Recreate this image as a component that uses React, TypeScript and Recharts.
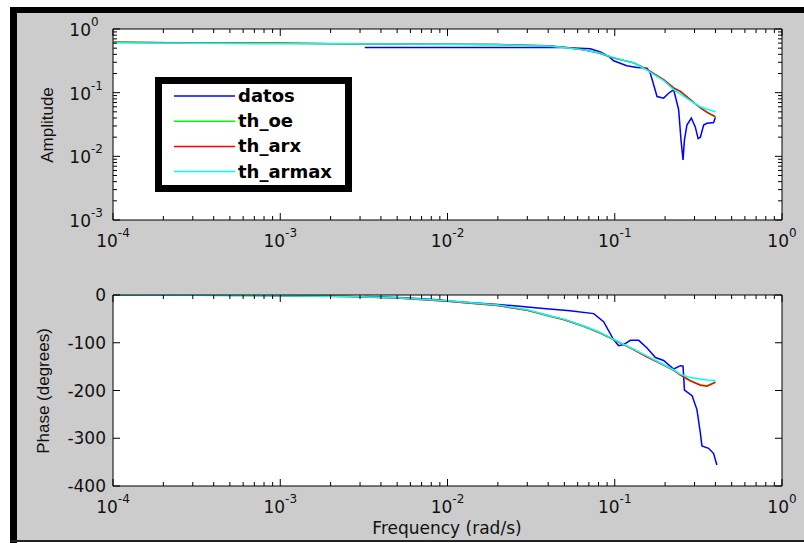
import React from 'react';
import { LineChart, Line, XAxis, YAxis, Legend } from 'recharts';

// tick labels
const xMajorTicks = [1e-4, 1e-3, 1e-2, 1e-1, 1];
const xTickExponents = ['-4', '-3', '-2', '-1', '0'];
const ampMajorTicks = [1e-3, 1e-2, 1e-1, 1];
const ampTickExponents = ['-3', '-2', '-1', '0'];
const phaseTicks = [0, -100, -200, -300, -400];
const minorSteps = [2, 3, 4, 5, 6, 7, 8, 9];

const seriesNames = ['datos', 'th_oe', 'th_arx', 'th_armax'];
const seriesColors = ['#0000ff', '#00ff00', '#ff0000', '#00ffff'];

// measured response (datos)
const datosAmpFreq = [0.0032, 0.02, 0.05, 0.057, 0.0715, 0.082, 0.092, 0.0985, 0.118, 0.136, 0.156, 0.163, 0.179, 0.196, 0.21, 0.225, 0.241, 0.249, 0.256, 0.261, 0.27, 0.287, 0.303, 0.315, 0.325, 0.34, 0.356, 0.39, 0.4];
const datosAmp = [0.514, 0.514, 0.514, 0.505, 0.49, 0.435, 0.371, 0.317, 0.265, 0.249, 0.243, 0.203, 0.087, 0.082, 0.098, 0.111, 0.054, 0.018, 0.0088, 0.018, 0.031, 0.04, 0.029, 0.019, 0.02, 0.031, 0.033, 0.034, 0.041];
const datosPhaseFreq = [0.0032, 0.0055, 0.0087, 0.0116, 0.02, 0.026, 0.036, 0.054, 0.0748, 0.0858, 0.0985, 0.1055, 0.113, 0.124, 0.139, 0.156, 0.175, 0.196, 0.225, 0.247, 0.256, 0.261, 0.29, 0.31, 0.325, 0.332, 0.364, 0.39, 0.408];
const datosPhase = [-3, -6, -10, -14, -20, -23, -28, -33, -39, -56, -94, -106, -104, -95, -95, -111, -131, -137, -155, -148, -149, -199, -211, -240, -289, -316, -321, -332, -356];

// identified models
const modelFreq = [1e-4, 3.2e-4, 1e-3, 2.5e-3, 0.005, 0.01, 0.02, 0.03, 0.04, 0.05, 0.065, 0.08, 0.0985, 0.13, 0.156, 0.196, 0.225, 0.247, 0.283, 0.325, 0.356, 0.4];
const oeAmp = [0.624, 0.6, 0.6, 0.58, 0.578, 0.577, 0.57, 0.552, 0.545, 0.514, 0.47, 0.42, 0.35, 0.292, 0.229, 0.159, 0.118, 0.104, 0.077, 0.057, 0.05, 0.041];
const arxAmp = [0.62, 0.6, 0.595, 0.585, 0.58, 0.578, 0.572, 0.555, 0.546, 0.516, 0.47, 0.422, 0.352, 0.294, 0.231, 0.16, 0.119, 0.105, 0.078, 0.058, 0.049, 0.042];
const armaxAmp = [0.61, 0.598, 0.585, 0.585, 0.58, 0.575, 0.566, 0.55, 0.54, 0.51, 0.47, 0.425, 0.355, 0.292, 0.226, 0.155, 0.112, 0.095, 0.075, 0.06, 0.055, 0.05];
const oePhase = [0, -0.5, -1.5, -3, -6.5, -13, -22, -32, -44, -52, -66, -78, -94, -114, -129, -146, -157, -167, -179, -188, -190, -182];
const arxPhase = [0, -0.5, -1.5, -3, -6.5, -13, -22, -32, -43, -52, -65, -78, -93, -115, -130, -147, -158, -168, -180, -189, -191, -183];
const armaxPhase = [0, -0.5, -1.5, -3, -6, -12, -21, -31, -43, -51, -65, -77, -93, -114, -128, -146, -157, -166, -173, -176, -178, -179];

const TICK_FONT = '"DejaVu Sans", sans-serif';
const LABEL_FONT = '"Liberation Sans", Arial, sans-serif';
const INK = '#111';

const toPoints = (fs: number[], vs: number[]) => fs.map((f, i) => ({ f, v: vs[i] }));

const logTicks = (decades: number[]) => [
  ...decades,
  ...decades.slice(0, -1).flatMap((d) => minorSteps.map((m) => d * m)),
].sort((a, b) => a - b);

const xTicks = logTicks(xMajorTicks);
const ampTicks = logTicks(ampMajorTicks);

const decadeIndex = (list: number[], v: number) =>
  list.findIndex((t) => Math.abs(t - v) / t < 1e-6);

const makeXTick = (side: 'top' | 'bottom') => (props: any) => {
  const { x, y, payload } = props;
  const idx = decadeIndex(xMajorTicks, payload.value);
  const len = idx >= 0 ? 7 : 4;
  const d = side === 'bottom' ? -1 : 1;
  return (
    <g>
      <line x1={x} x2={x} y1={y} y2={y + d * len} stroke="#000" strokeWidth={1} />
      {side === 'bottom' && idx >= 0 && (
        <text x={x} y={y + 27} textAnchor="middle" fontFamily={TICK_FONT} fontSize={17} fill={INK}>
          10
          <tspan dy={-10} fontSize={12}>
            {xTickExponents[idx]}
          </tspan>
        </text>
      )}
    </g>
  );
};

const makeAmpTick = (side: 'left' | 'right') => (props: any) => {
  const { x, y, payload } = props;
  const idx = decadeIndex(ampMajorTicks, payload.value);
  const len = idx >= 0 ? 7 : 4;
  const d = side === 'left' ? 1 : -1;
  return (
    <g>
      <line x1={x} x2={x + d * len} y1={y} y2={y} stroke="#000" strokeWidth={1} />
      {side === 'left' && idx >= 0 && (
        <>
          <text x={x - 22} y={y + 7} textAnchor="end" fontFamily={TICK_FONT} fontSize={17} fill={INK}>
            10
          </text>
          <text x={x - 22} y={y - 3} fontFamily={TICK_FONT} fontSize={12} fill={INK}>
            {ampTickExponents[idx]}
          </text>
        </>
      )}
    </g>
  );
};

const makePhaseTick = (side: 'left' | 'right') => (props: any) => {
  const { x, y, payload } = props;
  const d = side === 'left' ? 1 : -1;
  return (
    <g>
      <line x1={x} x2={x + d * 7} y1={y} y2={y} stroke="#000" strokeWidth={1} />
      {side === 'left' && (
        <text x={x - 7} y={y + 6} textAnchor="end" fontFamily={TICK_FONT} fontSize={17} fill={INK}>
          {payload.value}
        </text>
      )}
    </g>
  );
};

const LegendBox = () => (
  <div
    style={{
      width: 197,
      height: 115,
      boxSizing: 'border-box',
      border: '7px solid #000',
      background: '#fff',
    }}
  >
    <svg width={183} height={101} style={{ display: 'block' }}>
      {seriesNames.map((name, i) => {
        const cy = 12 + i * 25.2;
        return (
          <g key={name}>
            <line x1={12} x2={73} y1={cy} y2={cy} stroke={seriesColors[i]} strokeWidth={1.5} />
            <text x={76} y={cy + 6} fontFamily={TICK_FONT} fontWeight="bold" fontSize={18} fill="#000">
              {name}
            </text>
          </g>
        );
      })}
    </svg>
  </div>
);

const ampSeries = [
  toPoints(datosAmpFreq, datosAmp),
  toPoints(modelFreq, oeAmp),
  toPoints(modelFreq, arxAmp),
  toPoints(modelFreq, armaxAmp),
];
const phaseSeries = [
  toPoints(datosPhaseFreq, datosPhase),
  toPoints(modelFreq, oePhase),
  toPoints(modelFreq, arxPhase),
  toPoints(modelFreq, armaxPhase),
];

const frame = { stroke: '#000', strokeWidth: 1 };

// shared frame axes: width/height 1 so recharts still draws them
const axisCommon = {
  tickSize: 0,
  tickMargin: 0,
  axisLine: frame,
  tickLine: false,
  interval: 0 as const,
  allowDataOverflow: true,
};

export default function App() {
  return (
    <div style={{ position: 'absolute', left: 0, top: 0, width: 804, height: 543, background: '#fff', overflow: 'hidden' }}>
      {/* figure window */}
      <div style={{ position: 'absolute', left: 17, top: 13, width: 787, height: 527, background: '#cccccc' }} />
      <div style={{ position: 'absolute', left: 10, top: 7, width: 794, height: 6, background: '#000' }} />
      <div style={{ position: 'absolute', left: 10, top: 7, width: 7, height: 536, background: '#000' }} />
      <div style={{ position: 'absolute', left: 10, top: 540, width: 794, height: 2, background: '#222' }} />
      <div style={{ position: 'absolute', left: 113, top: 29, width: 669, height: 191, background: '#fff' }} />
      <div style={{ position: 'absolute', left: 113, top: 295, width: 669, height: 191, background: '#fff' }} />

      {/* amplitude */}
      <div style={{ position: 'absolute', left: 0, top: 0 }}>
        <LineChart width={804} height={260} margin={{ top: 28, right: 21, bottom: 39, left: 112 }}>
          <XAxis xAxisId="b" dataKey="f" type="number" scale="log" domain={[1e-4, 1]} ticks={xTicks}
            height={1} tick={makeXTick('bottom')} {...axisCommon} />
          <XAxis xAxisId="t" orientation="top" dataKey="f" type="number" scale="log" domain={[1e-4, 1]} ticks={xTicks}
            height={1} tick={makeXTick('top')} {...axisCommon} />
          <YAxis yAxisId="l" type="number" scale="log" domain={[1e-3, 1]} ticks={ampTicks}
            width={1} tick={makeAmpTick('left')} {...axisCommon} />
          <YAxis yAxisId="r" orientation="right" type="number" scale="log" domain={[1e-3, 1]} ticks={ampTicks}
            width={1} tick={makeAmpTick('right')} {...axisCommon} />
          <Legend layout="vertical" align="center" verticalAlign="middle" content={LegendBox}
            wrapperStyle={{ left: 155, top: 77, width: 197, height: 115 }} />
          {ampSeries.map((data, i) => (
            <Line key={seriesNames[i]} xAxisId="b" yAxisId="l" data={data} dataKey="v" name={seriesNames[i]}
              type="linear" stroke={seriesColors[i]} strokeWidth={1.5} dot={false} activeDot={false} isAnimationActive={false} />
          ))}
        </LineChart>
      </div>

      {/* phase */}
      <div style={{ position: 'absolute', left: 0, top: 260 }}>
        <LineChart width={804} height={283} margin={{ top: 34, right: 21, bottom: 56, left: 112 }}>
          <XAxis xAxisId="b" dataKey="f" type="number" scale="log" domain={[1e-4, 1]} ticks={xTicks}
            height={1} tick={makeXTick('bottom')} {...axisCommon} />
          <XAxis xAxisId="t" orientation="top" dataKey="f" type="number" scale="log" domain={[1e-4, 1]} ticks={xTicks}
            height={1} tick={makeXTick('top')} {...axisCommon} />
          <YAxis yAxisId="l" type="number" domain={[-400, 0]} ticks={phaseTicks}
            width={1} tick={makePhaseTick('left')} {...axisCommon} />
          <YAxis yAxisId="r" orientation="right" type="number" domain={[-400, 0]} ticks={phaseTicks}
            width={1} tick={makePhaseTick('right')} {...axisCommon} />
          {phaseSeries.map((data, i) => (
            <Line key={seriesNames[i]} xAxisId="b" yAxisId="l" data={data} dataKey="v" name={seriesNames[i]}
              type="linear" stroke={seriesColors[i]} strokeWidth={1.5} dot={false} activeDot={false} isAnimationActive={false} />
          ))}
        </LineChart>
      </div>

      {/* axis titles */}
      <svg width={804} height={543} style={{ position: 'absolute', left: 0, top: 0, pointerEvents: 'none' }}>
        <text transform="translate(53,125) rotate(-90)" textAnchor="middle" fontFamily={LABEL_FONT} fontSize={17} fill={INK}>
          Amplitude
        </text>
        <text transform="translate(49,391) rotate(-90)" textAnchor="middle" fontFamily={LABEL_FONT} fontSize={17} fill={INK}>
          Phase (degrees)
        </text>
        <text x={447} y={534} textAnchor="middle" fontFamily={TICK_FONT} fontSize={17} fill={INK}>
          Frequency (rad/s)
        </text>
      </svg>
    </div>
  );
}
